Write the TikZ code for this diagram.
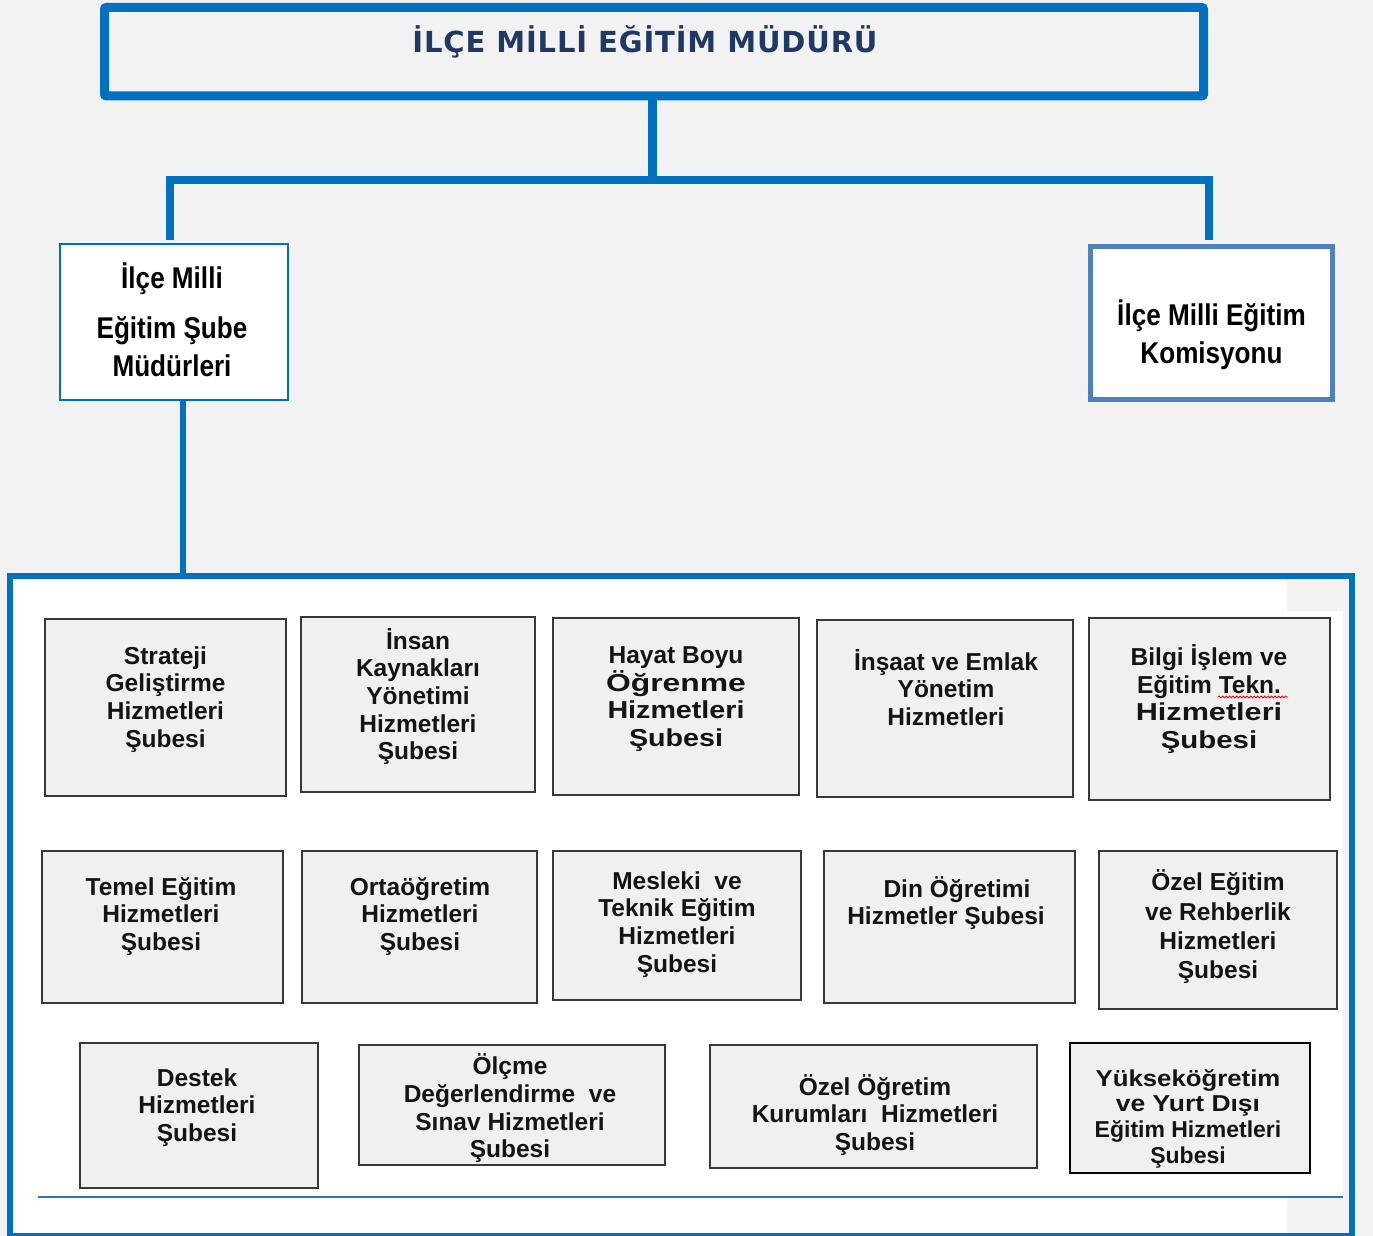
\documentclass[tikz,border=0pt]{standalone}
\usepackage{fontspec}
\usepackage{graphicx}
\setmainfont{Liberation Sans}
\newfontfamily\baslikfont[LetterSpace=3]{DejaVu Sans}
\newfontfamily\darfont[FakeStretch=0.87]{Liberation Sans}
\usetikzlibrary{positioning,decorations.pathmorphing}

\definecolor{meb}{HTML}{0070C0}
\definecolor{lacivert}{HTML}{1F3864}
\definecolor{komisyonmavi}{HTML}{4F81BD}
\definecolor{zemin}{HTML}{F2F2F2}
\definecolor{kutu}{HTML}{F0F0F0}
\definecolor{ince}{HTML}{2E75B6}

\tikzset{hat/.style={draw=meb, line width=8}}
\tikzset{birim/.style 2 args={draw=black!78, fill=kutu, line width=1.8, minimum width=#1, minimum height=#2, inner sep=0}}
\tikzset{yazi/.style={align=center, inner sep=0, text=black!92, font=\fontsize{24.5}{27.7}\selectfont\bfseries}}
\tikzset{dar/.style={align=center, inner sep=0, font=\darfont\fontsize{30}{38}\selectfont\bfseries}}

\begin{document}
\begin{tikzpicture}[x=1pt, y=-1pt]
    \useasboundingbox (0,0) rectangle (1373,1236);
    \fill[zemin] (0,0) rectangle (1373,1236);

    % mudur
    \node[draw=meb, line width=9, fill=zemin, rounded corners=2, minimum width=1099, minimum height=88.5] (mudur) at (654,51.75) {};
    \node[text=lacivert, inner sep=0, font=\baslikfont\fontsize{29}{32}\selectfont\bfseries] (mudur-yazi) at (645,42) {İLÇE MİLLİ EĞİTİM MÜDÜRÜ};

    % sube mudurleri ve komisyon
    \node[draw=meb, line width=2.5, fill=white, minimum width=228, minimum height=156] (sube) at (174,322) {};
    \node[dar] (sube-yazi) at (172,320) {İlçe Milli\\[12pt]Eğitim Şube\\Müdürleri};
    \node[draw=komisyonmavi, line width=5, fill=white, minimum width=242, minimum height=153.5] (komisyon) at (1211.5,322.75) {};
    \node[dar] (komisyon-yazi) at (1211.5,335) {İlçe Milli Eğitim\\Komisyonu};

    \coordinate (bar) at (652,179.5);
    \coordinate (solucu) at (170,240);
    \coordinate (sagucu) at (1208.5,240);
    \draw[hat, line width=9] (mudur.south -| bar) -- (bar);
    \draw[hat] (solucu) |- (bar) -| (sagucu);

    % birimler
    \fill[white] (13,579) -- (1287,579) -- (1287,611) -- (1343,611) -- (1343,1197) -- (1287,1197) -- (1287,1233) -- (13,1233) -- cycle;
    \node[draw=meb, line width=6.5, minimum width=1342, minimum height=660, inner sep=0] (birimler) at (681,906) {};
    \draw[hat, line width=5.5] ([xshift=9]sube.south) -- ([xshift=9]sube.south |- birimler.north);
    \draw[ince, line width=1.3] (38,1197) -- (1343,1197);

    \node[birim={241}{177}] (strateji) at (165.5,707.5) {};
    \node[yazi] (strateji-yazi) at (165.5,699.5) {Strateji\\Geliştirme\\Hizmetleri\\Şubesi};
    \node[birim={234}{175}] (insan) at (418,704.5) {};
    \node[yazi] (insan-yazi) at (418,696.5) {İnsan\\Kaynakları\\Yönetimi\\Hizmetleri\\Şubesi};
    \node[birim={246}{177}] (hayat) at (676,706.5) {};
    \node[yazi] (hayat-yazi) at (676,699) {Hayat Boyu\\\scalebox{1.3}[1]{Öğrenme}\\\scalebox{1.17}[1]{Hizmetleri}\\\scalebox{1.17}[1]{Şubesi}};
    \node[birim={256}{177}] (insaat) at (945,708.5) {};
    \node[yazi] (insaat-yazi) at (946,687.5) {İnşaat ve Emlak\\Yönetim\\Hizmetleri};
    \node[birim={241}{182}] (bilgi) at (1209.5,709) {};
    \node[yazi] (bilgi-yazi) at (1209,699) {Bilgi İşlem ve\\Eğitim Tekn.\\\scalebox{1.25}[1]{Hizmetleri}\\\scalebox{1.2}[1]{Şubesi}};
    \draw[red, line width=0.8, decorate, decoration={snake, amplitude=1, segment length=3.5}] (1218,697) -- (1288,697);

    \node[birim={241}{152}] (temel) at (162.5,927) {};
    \node[yazi] (temel-yazi) at (161,916.5) {Temel Eğitim\\Hizmetleri\\Şubesi};
    \node[birim={235}{152}] (orta) at (419.5,927) {};
    \node[yazi] (orta-yazi) at (420,916.5) {Ortaöğretim\\Hizmetleri\\Şubesi};
    \node[birim={248}{149}] (mesleki) at (677,925.5) {};
    \node[yazi] (mesleki-yazi) at (677,924.5) {Mesleki~ ve\\Teknik Eğitim\\Hizmetleri\\Şubesi};
    \node[birim={251}{152}] (din) at (949.5,927) {};
    \node[yazi] (din-yazi) at (946,903) {\hspace*{22pt}Din Öğretimi\\Hizmetler Şubesi};
    \node[birim={238}{158}] (ozel) at (1218,930) {};
    \node[yazi, font=\fontsize{24.5}{29.3}\selectfont\bfseries] (ozel-yazi) at (1218,927) {Özel Eğitim\\ve Rehberlik\\Hizmetleri\\Şubesi};

    \node[birim={238}{145}] (destek) at (199,1115.5) {};
    \node[yazi] (destek-yazi) at (197,1107.5) {Destek\\Hizmetleri\\Şubesi};
    \node[birim={306}{120}] (olcme) at (512,1105) {};
    \node[yazi] (olcme-yazi) at (510,1108.5) {Ölçme\\Değerlendirme~ ve\\Sınav Hizmetleri\\Şubesi};
    \node[birim={327}{123}] (ozelogr) at (873.5,1106.5) {};
    \node[yazi] (ozelogr-yazi) at (875,1115) {Özel Öğretim\\Kurumları~ Hizmetleri\\Şubesi};
    \node[birim={240}{130}, draw=black, line width=2.8] (yuksek) at (1190,1108) {};
    \node[yazi, font=\fontsize{23}{25.7}\selectfont\bfseries] (yuksek-yazi) at (1188,1118.5) {\scalebox{1.12}[1]{Yükseköğretim}\\\scalebox{1.15}[1]{ve Yurt Dışı}\\Eğitim Hizmetleri\\Şubesi};
\end{tikzpicture}
\end{document}
